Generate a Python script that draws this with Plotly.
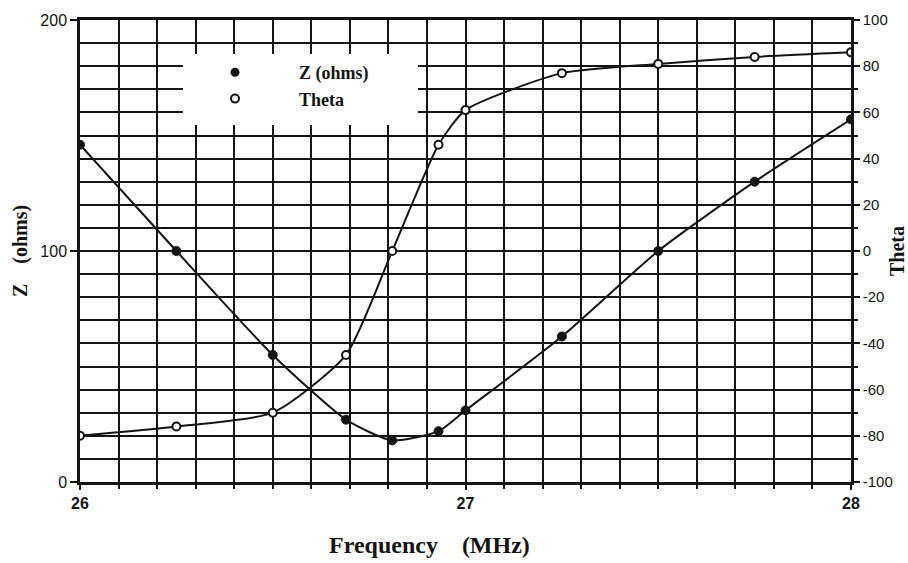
import plotly.graph_objects as go

freq = [26.0, 26.25, 26.5, 26.69, 26.81, 26.93, 27.0, 27.25, 27.5, 27.75, 28.0]
z_ohms = [146, 100, 55, 27, 18, 22, 31, 63, 100, 130, 157]
theta = [-80, -76, -70, -45, 0, 46, 61, 77, 81, 84, 86]

x_ticks = [26, 27, 28]
z_ticks = [0, 100, 200]
theta_ticks = list(range(-100, 101, 20))

W, H = 908, 563
L, R, T, B = 80, 57, 20, 81
pw, ph = W - L - R, H - T - B

def px_x(p):
    return (p - L) / pw

def px_y(p):
    return 1 - (p - T) / ph

serif = "Liberation Serif, Times New Roman, serif"
sans = "Liberation Sans, Arial, sans-serif"
ink = "#141414"

fig = go.Figure()

fig.add_trace(go.Scatter(
    x=freq, y=z_ohms, name="Z (ohms)", mode="lines+markers",
    line=dict(color=ink, width=2, shape="spline", smoothing=0.6),
    marker=dict(symbol="circle", size=9, color=ink, line=dict(color=ink, width=1)),
    showlegend=False, yaxis="y",
))
fig.add_trace(go.Scatter(
    x=freq, y=theta, name="Theta", mode="lines+markers",
    line=dict(color=ink, width=2, shape="spline", smoothing=0.6),
    marker=dict(symbol="circle", size=8, color="white", line=dict(color=ink, width=2)),
    showlegend=False, yaxis="y2",
))
# legend entries (marker only, as in the reference legend)
fig.add_trace(go.Scatter(
    x=[None], y=[None], name="Z (ohms)", mode="markers",
    marker=dict(symbol="circle", size=9, color=ink), yaxis="y",
))
fig.add_trace(go.Scatter(
    x=[None], y=[None], name="Theta", mode="markers",
    marker=dict(symbol="circle", size=8, color="white", line=dict(color=ink, width=2)),
    yaxis="y2",
))

# white legend box covering the grid
fig.add_shape(type="rect", xref="paper", yref="paper",
              x0=px_x(183), x1=px_x(418), y0=px_y(125), y1=px_y(54),
              fillcolor="white", line=dict(width=0), layer="above")

# x-axis title placed as in the reference
fig.add_annotation(
    text="Frequency\u00a0\u00a0\u00a0\u00a0(MHz)", xref="paper", yref="paper",
    x=px_x(429), y=px_y(545), xanchor="center", yanchor="middle",
    showarrow=False, font=dict(family=serif, size=24, color=ink, weight="bold"),
)

fig.update_layout(
    width=W, height=H,
    margin=dict(l=L, r=R, t=T, b=B),
    paper_bgcolor="white", plot_bgcolor="white",
    showlegend=True,
    legend=dict(
        x=px_x(171), y=px_y(54), xanchor="left", yanchor="top",
        bgcolor="rgba(0,0,0,0)", borderwidth=0,
        font=dict(family=serif, size=18, color=ink, weight="bold"),
        itemwidth=118, tracegroupgap=0,
    ),
    xaxis=dict(
        range=[26, 28], tickvals=x_ticks, ticktext=[str(v) for v in x_ticks],
        showgrid=True, gridcolor=ink, gridwidth=1.6,
        minor=dict(dtick=0.1, showgrid=True, gridcolor=ink, gridwidth=1.6,
                   ticks="outside", ticklen=4, tickcolor=ink, tickwidth=1.5),
        ticks="outside", ticklen=5, tickcolor=ink, tickwidth=2,
        showline=True, linecolor=ink, linewidth=2.5, mirror=True,
        zeroline=False, automargin=False,
        tickfont=dict(family=sans, size=16, color=ink, weight="bold"),
    ),
    yaxis=dict(
        range=[0, 200], tickvals=z_ticks,
        showgrid=True, gridcolor=ink, gridwidth=1.6,
        minor=dict(dtick=10, showgrid=True, gridcolor=ink, gridwidth=1.6),
        ticks="outside", ticklen=7, tickcolor=ink, tickwidth=2,
        showline=True, linecolor=ink, linewidth=2.5,
        zeroline=False, automargin=False,
        tickfont=dict(family=sans, size=16, color=ink),
        title=dict(text="Z\u00a0\u00a0\u00a0\u00a0(ohms)",
                   font=dict(family=serif, size=20, color=ink, weight="bold"),
                   standoff=8),
    ),
    yaxis2=dict(
        range=[-100, 100], tickvals=theta_ticks,
        ticktext=[str(v) for v in theta_ticks],
        overlaying="y", side="right",
        showgrid=False, zeroline=False, automargin=False,
        minor=dict(dtick=10, ticks="outside", ticklen=4, tickcolor=ink, tickwidth=1.5),
        ticks="outside", ticklen=6, tickcolor=ink, tickwidth=2,
        showline=True, linecolor=ink, linewidth=2.5,
        tickfont=dict(family=sans, size=15, color=ink),
        title=dict(text="Theta",
                   font=dict(family=serif, size=20, color=ink, weight="bold"),
                   standoff=10),
    ),
)

fig.write_html("out.html")
